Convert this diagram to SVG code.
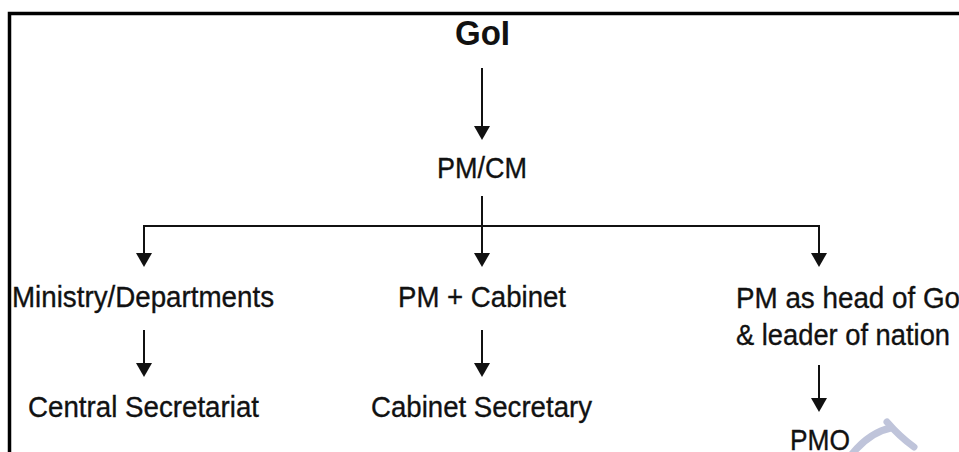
<svg xmlns="http://www.w3.org/2000/svg" width="959" height="452" viewBox="0 0 959 452">
  <style>
    .t { font-family: "Liberation Sans", Arial, sans-serif; font-size: 30px; fill: #111; stroke: #111; stroke-width: 0.35; }
    .title { font-family: "Liberation Sans", Arial, sans-serif; font-size: 35px; font-weight: bold; fill: #111; }
    .c { fill: none; stroke: #111; stroke-width: 2; }
  </style>
  <defs>
    <marker id="ah" markerUnits="userSpaceOnUse" markerWidth="15" markerHeight="17" viewBox="0 -8.5 15 17" refX="10" refY="0" orient="auto">
      <path d="M0,-8 L14,0 L0,8 z" fill="#111"/>
    </marker>
  </defs>
  <rect x="0" y="0" width="959" height="452" fill="#fff"/>
  <rect id="frame" x="9.5" y="13.5" width="1000" height="500" fill="none" stroke="#000" stroke-width="3.5"/>
  <path id="watermark" d="M852 454 Q870 432 891 428 M887 422 Q900 437 914 447" fill="none" stroke="#bfc4da" stroke-width="7" stroke-linecap="round"/>
  <g id="connectors">
    <path class="c" d="M482 68 V136" marker-end="url(#ah)"/>
    <path class="c" d="M482 196 V263" marker-end="url(#ah)"/>
    <path class="c" d="M144 263 V226 H819 V263" marker-end="url(#ah)"/>
    <path class="c" d="M144 226 V263" marker-end="url(#ah)"/>
    <path class="c" d="M144 330 V373" marker-end="url(#ah)"/>
    <path class="c" d="M482 330 V373" marker-end="url(#ah)"/>
    <path class="c" d="M819 365 V408" marker-end="url(#ah)"/>
  </g>
  <g id="goi"><text class="title" x="482.5" y="45" text-anchor="middle" textLength="55" lengthAdjust="spacingAndGlyphs">GoI</text></g>
  <g id="pmcm"><text class="t" x="482" y="178" text-anchor="middle" textLength="90" lengthAdjust="spacingAndGlyphs">PM/CM</text></g>
  <g id="ministry"><text class="t" x="143" y="307" text-anchor="middle" textLength="262" lengthAdjust="spacingAndGlyphs">Ministry/Departments</text></g>
  <g id="central"><text class="t" x="143.5" y="417" text-anchor="middle" textLength="231" lengthAdjust="spacingAndGlyphs">Central Secretariat</text></g>
  <g id="pmcabinet"><text class="t" x="482" y="307" text-anchor="middle" textLength="168" lengthAdjust="spacingAndGlyphs">PM + Cabinet</text></g>
  <g id="cabsec"><text class="t" x="481.5" y="417" text-anchor="middle" textLength="221" lengthAdjust="spacingAndGlyphs">Cabinet Secretary</text></g>
  <g id="pmhead">
    <text class="t" x="736" y="308" textLength="224" lengthAdjust="spacingAndGlyphs">PM as head of Go</text>
    <text class="t" x="736" y="344.5" textLength="214" lengthAdjust="spacingAndGlyphs">&amp; leader of nation</text>
  </g>
  <g id="pmo"><text class="t" x="820" y="449.5" text-anchor="middle" textLength="60" lengthAdjust="spacingAndGlyphs">PMO</text></g>
</svg>
